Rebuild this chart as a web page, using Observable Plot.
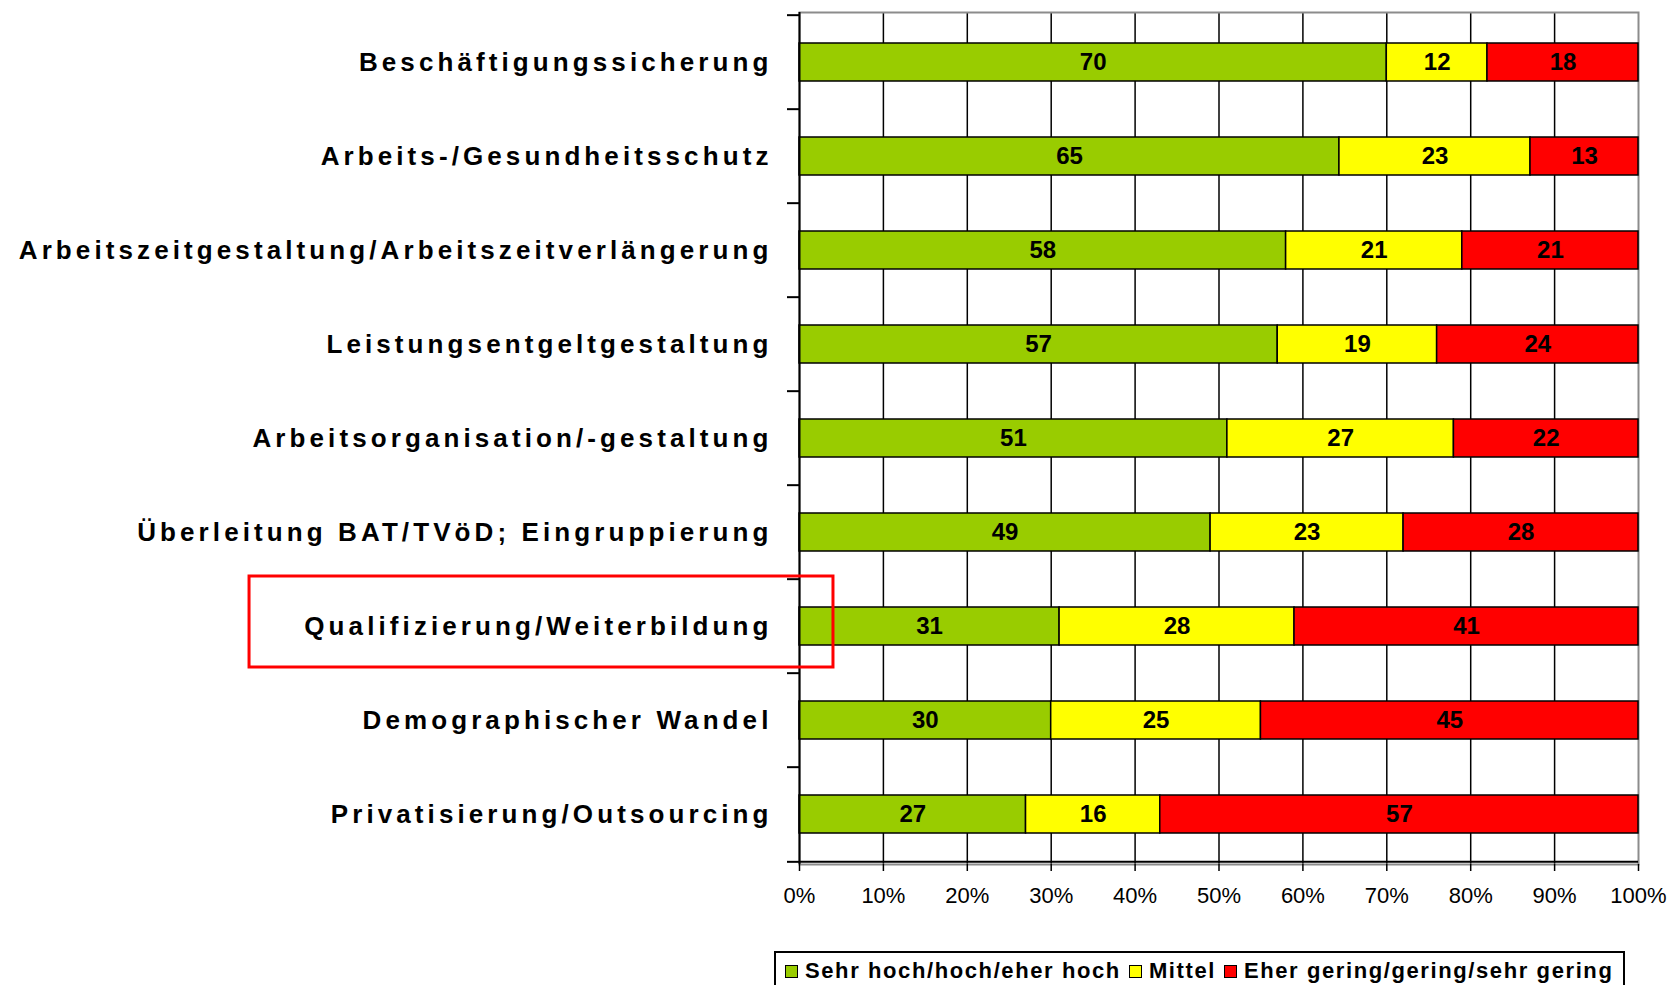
<!DOCTYPE html>
<html>
<head>
<meta charset="utf-8">
<script src="https://cdn.jsdelivr.net/npm/d3@7"></script>
<script src="https://cdn.jsdelivr.net/npm/@observablehq/plot@0.6"></script>
<style>
  html, body { margin: 0; padding: 0; background: #fff; }
  body { width: 1670px; height: 985px; position: relative; overflow: hidden; font-family: "Liberation Sans", Arial, sans-serif; }
  #chart { position: absolute; left: 0; top: 0; }
  g[aria-label="y-axis tick label"] text { letter-spacing: 4.1px; }
  #legend {
    position: absolute; left: 774px; top: 951px; width: 851px; height: 40px;
    border: 2px solid #000; box-sizing: border-box; background: #fff;
    display: flex; align-items: center; padding-left: 9px;
    font: bold 22px "Liberation Sans", Arial, sans-serif; letter-spacing: 1.6px; color: #000;
  }
  #legend .item { display: flex; align-items: center; margin-right: 8px; white-space: nowrap; }
  #legend .sw { width: 11px; height: 11px; border: 1.5px solid #000; margin-right: 7px; }
</style>
</head>
<body>
<div id="chart"></div>
<div id="legend"></div>
<script>
// ---- data ----
const categories = [
  "Beschäftigungssicherung",
  "Arbeits-/Gesundheitsschutz",
  "Arbeitszeitgestaltung/Arbeitszeitverlängerung",
  "Leistungsentgeltgestaltung",
  "Arbeitsorganisation/-gestaltung",
  "Überleitung BAT/TVöD; Eingruppierung",
  "Qualifizierung/Weiterbildung",
  "Demographischer Wandel",
  "Privatisierung/Outsourcing"
];
const seriesNames = ["Sehr hoch/hoch/eher hoch", "Mittel", "Eher gering/gering/sehr gering"];
const hoch   = [70, 65, 58, 57, 51, 49, 31, 30, 27];
const mittel = [12, 23, 21, 19, 27, 23, 28, 25, 16];
const gering = [18, 13, 21, 24, 22, 28, 41, 45, 57];
const xTicks = [0, 0.1, 0.2, 0.3, 0.4, 0.5, 0.6, 0.7, 0.8, 0.9, 1];
const highlighted = "Qualifizierung/Weiterbildung";
const colors = ["#99CC00", "#FFFF00", "#FF0000"];

// ---- table ----
const seriesValues = [hoch, mittel, gering];
const data = [];
categories.forEach((c, i) => {
  seriesNames.forEach((s, j) => data.push({category: c, series: s, value: seriesValues[j][i]}));
});

// ---- layout ----
const W = 1670, H = 940, mL = 799, mR = 32, mT = 12, mB = 76;
const step = (H - mT - mB) / categories.length;
const innerGrid = xTicks.filter(t => t > 0 && t < 1);

const stackOpts = {x: "value", y: "category", offset: "normalize"};

const chart = Plot.plot({
  width: W, height: H,
  marginLeft: mL, marginRight: mR, marginTop: mT, marginBottom: mB,
  style: {fontFamily: '"Liberation Sans", Arial, sans-serif', fontSize: "22px", color: "#000", background: "#fff"},
  x: {domain: [0, 1], axis: null, label: null},
  y: {domain: categories, paddingInner: 0.6, paddingOuter: 0.3, axis: null, label: null},
  color: {domain: seriesNames, range: colors},
  marks: [
    Plot.ruleX(innerGrid, {stroke: "#000", strokeWidth: 1.5}),
    Plot.frame({stroke: "#8c8c8c", strokeWidth: 2}),
    Plot.barX(data, Plot.stackX({...stackOpts, fill: "series", stroke: "#000", strokeWidth: 1.5})),
    Plot.text(data, Plot.stackX({...stackOpts, text: "value", fill: "#000", fontWeight: "bold", fontSize: 24})),
    // left and bottom axis lines
    Plot.ruleX([0], {stroke: "#000", strokeWidth: 2}),
    Plot.ruleY([categories[categories.length - 1]], {stroke: "#000", strokeWidth: 2, dy: step / 2}),
    // category labels
    Plot.axisY(categories, {tickSize: 0, tickPadding: 27, fontSize: 26, fontWeight: "bold", fill: "#000", label: null}),
    // boundary ticks on the y axis
    Plot.axisY(categories, {tickSize: 12, tickFormat: () => "", dy: -step / 2, stroke: "#000", strokeWidth: 2, label: null}),
    Plot.axisY([categories[categories.length - 1]], {tickSize: 12, tickFormat: () => "", dy: step / 2, stroke: "#000", strokeWidth: 2, label: null}),
    // x axis
    Plot.axisX(xTicks, {tickSize: 7, tickPadding: 16, tickFormat: d3.format(".0%"), stroke: "#000", strokeWidth: 1.5, fontSize: 22, fill: "#000", label: null}),
    // highlight box
    Plot.barX([highlighted], {y: d => d, x1: -0.6555, x2: 0.0405, fill: "none", stroke: "#FF0000", strokeWidth: 3, insetTop: -31, insetBottom: -22})
  ]
});
document.getElementById("chart").appendChild(chart);

// ---- legend ----
const legend = document.getElementById("legend");
seriesNames.forEach((s, j) => {
  const item = document.createElement("div");
  item.className = "item";
  const sw = document.createElement("div");
  sw.className = "sw";
  sw.style.background = colors[j];
  const t = document.createElement("span");
  t.textContent = s;
  item.appendChild(sw); item.appendChild(t);
  legend.appendChild(item);
});
</script>
</body>
</html>
